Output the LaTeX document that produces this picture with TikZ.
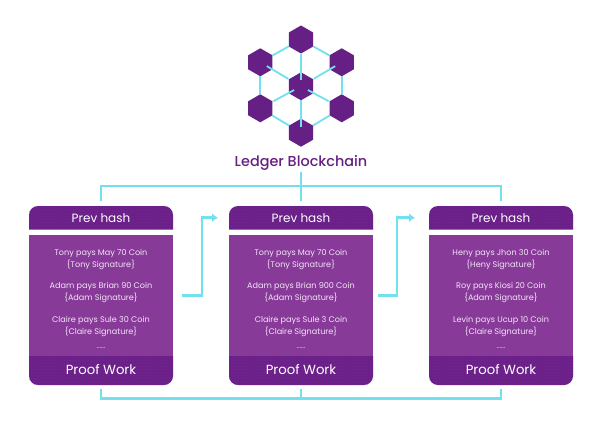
\documentclass[tikz,border=0pt]{standalone}
\usepackage{fontspec}
\setmainfont{Poppins}
\newfontfamily\titlefont{Poppins Medium}
\usetikzlibrary{calc,arrows.meta,patterns,shapes.geometric}
\definecolor{headpurple}{HTML}{6A2088}
\definecolor{bodypurple}{HTML}{883A98}
\definecolor{hexpurple}{HTML}{651F85}
\definecolor{linkcyan}{HTML}{72E0EE}
\definecolor{bodytext}{HTML}{F3E4F7}
\tikzset{
  hexnode/.style={regular polygon,regular polygon sides=6,shape border rotate=30,fill=hexpurple,minimum size=28pt,inner sep=0pt,outer sep=0pt},
  hexlink/.style={draw=linkcyan,line width=1.8pt},
  link/.style={draw=linkcyan,line width=2.6pt},
  flowarrow/.style={link,-{Latex[length=6pt,width=9pt]}},
  panel/.style={minimum width=144pt,inner sep=0pt,outer sep=0pt,text=white},
  headfill/.style={fill=headpurple},
  dotfill/.style={pattern=crosshatch dots,pattern color=headpurple!65!bodypurple},
  headlabel/.style={panel,font=\fontsize{12}{14}\selectfont,text=white},
  footlabel/.style={panel,font=\fontsize{13.2}{15}\selectfont,text=white},
  bodybox/.style={panel,fill=bodypurple,minimum height=121.5pt},
  para/.style={align=center,inner sep=0pt,text=bodytext,font=\fontsize{8.1}{12}\selectfont},
}
\newcommand{\blockcard}[8]{%
  % #1 centre x, #2 suffix, #3..#8 text lines
  \node[bodybox] (b#2) at (#1,295.25) {};
  \fill[headfill] (#1-72,229.5) -- (#1-72,216) [rounded corners=9pt] -- (#1-72,206) -- (#1+72,206) [sharp corners] -- (#1+72,229.5) -- cycle;
  \fill[dotfill] (#1-72,229.5) -- (#1-72,216) [rounded corners=9pt] -- (#1-72,206) -- (#1+72,206) [sharp corners] -- (#1+72,229.5) -- cycle;
  \fill[headfill] (#1-72,356) [rounded corners=9pt] -- (#1-72,385) -- (#1+72,385) [sharp corners] -- (#1+72,356) -- cycle;
  \fill[dotfill] (#1-72,356) [rounded corners=9pt] -- (#1-72,385) -- (#1+72,385) [sharp corners] -- (#1+72,356) -- cycle;
  \node[headlabel,minimum height=23.5pt] (h#2) at (#1,217.75) {Prev hash};
  \node[footlabel,minimum height=29pt] (p#2) at (#1,369.5) {Proof Work};
  \node[para] (t#2a) at (#1,260) {#3\\#4};
  \node[para] (t#2b) at (#1,293) {#5\\#6};
  \node[para] (t#2c) at (#1,327) {#7\\#8};
  \node[para,font=\fontsize{7}{8}\selectfont] (t#2d) at (#1,348) {......};
}
\begin{document}
\begin{tikzpicture}[x=1pt,y=-1pt]
\useasboundingbox (0,0) rectangle (602,425);
\fill[white] (0,0) rectangle (602,425);
% hexagons
\node[hexnode] (hT) at (301,39.5) {};
\node[hexnode] (hUL) at (260.3,62.3) {};
\node[hexnode] (hUR) at (341.7,62.3) {};
\node[hexnode] (hC) at (301,86.3) {};
\node[hexnode] (hLL) at (260.3,108.3) {};
\node[hexnode] (hLR) at (341.7,108.3) {};
\node[hexnode] (hB) at (301,132.7) {};
\draw[hexlink] (hT) -- (hUL);
\draw[hexlink] (hT) -- (hUR);
\draw[hexlink] (hUL) -- (hLL);
\draw[hexlink] (hUR) -- (hLR);
\draw[hexlink] (hLL) -- (hB);
\draw[hexlink] (hLR) -- (hB);
\draw[hexlink] ($(hC)!0.135!(hT)$) -- ($(hC)!0.70!(hT)$);
\draw[hexlink] ($(hC)!0.31!(hUL)$) -- ($(hC)!0.84!(hUL)$);
\draw[hexlink] ($(hC)!0.31!(hUR)$) -- ($(hC)!0.84!(hUR)$);
\draw[hexlink] ($(hC)!0.17!(hLL)$) -- ($(hC)!0.68!(hLL)$);
\draw[hexlink] ($(hC)!0.17!(hLR)$) -- ($(hC)!0.68!(hLR)$);
\draw[hexlink] ($(hC)!0.295!(hB)$) -- ($(hC)!0.87!(hB)$);
\node[inner sep=0pt,text=hexpurple,font=\fontsize{14.4}{16}\titlefont] (title) at (301,162.5) {Ledger Blockchain};
% cards
\blockcard{101}{1}{Tony pays May 70 Coin}{\{Tony Signature\}}{Adam pays Brian 90 Coin}{\{Adam Signature\}}{Claire pays Sule 30 Coin}{\{Claire Signature\}}
\blockcard{301}{2}{Tony pays May 70 Coin}{\{Tony Signature\}}{Adam pays Brian 900 Coin}{\{Adam Signature\}}{Claire pays Sule 3 Coin}{\{Claire Signature\}}
\blockcard{501}{3}{Heny pays Jhon 30 Coin}{\{Heny Signature\}}{Roy pays Kiosi 20 Coin}{\{Adam Signature\}}{Levin pays Ucup 10 Coin}{\{Claire Signature\}}
% connectors
\coordinate (hubtop) at (301,186);
\coordinate (hubbot) at (301,398.5);
\draw[link] ([yshift=5pt]h1.north) |- (hubtop) -| ([yshift=5pt]h3.north);
\draw[link] ([yshift=-2pt]title.south) -- ([yshift=5pt]h2.north);
\draw[link] ([yshift=-5pt]p1.south) |- (hubbot) -| ([yshift=-5pt]p3.south);
\draw[link] ([yshift=-5pt]p2.south) -- (hubbot);
\draw[flowarrow] ([xshift=9pt]b1.east) -| ($(b1.east)!0.5!(b2.west)+(1,0)$) |- ([xshift=-11pt]h2.west);
\draw[flowarrow] ([xshift=5pt]b2.east) -| ($(b2.east)!0.5!(b3.west)-(4,0)$) |- ([xshift=-14pt]h3.west);
\end{tikzpicture}
\end{document}
